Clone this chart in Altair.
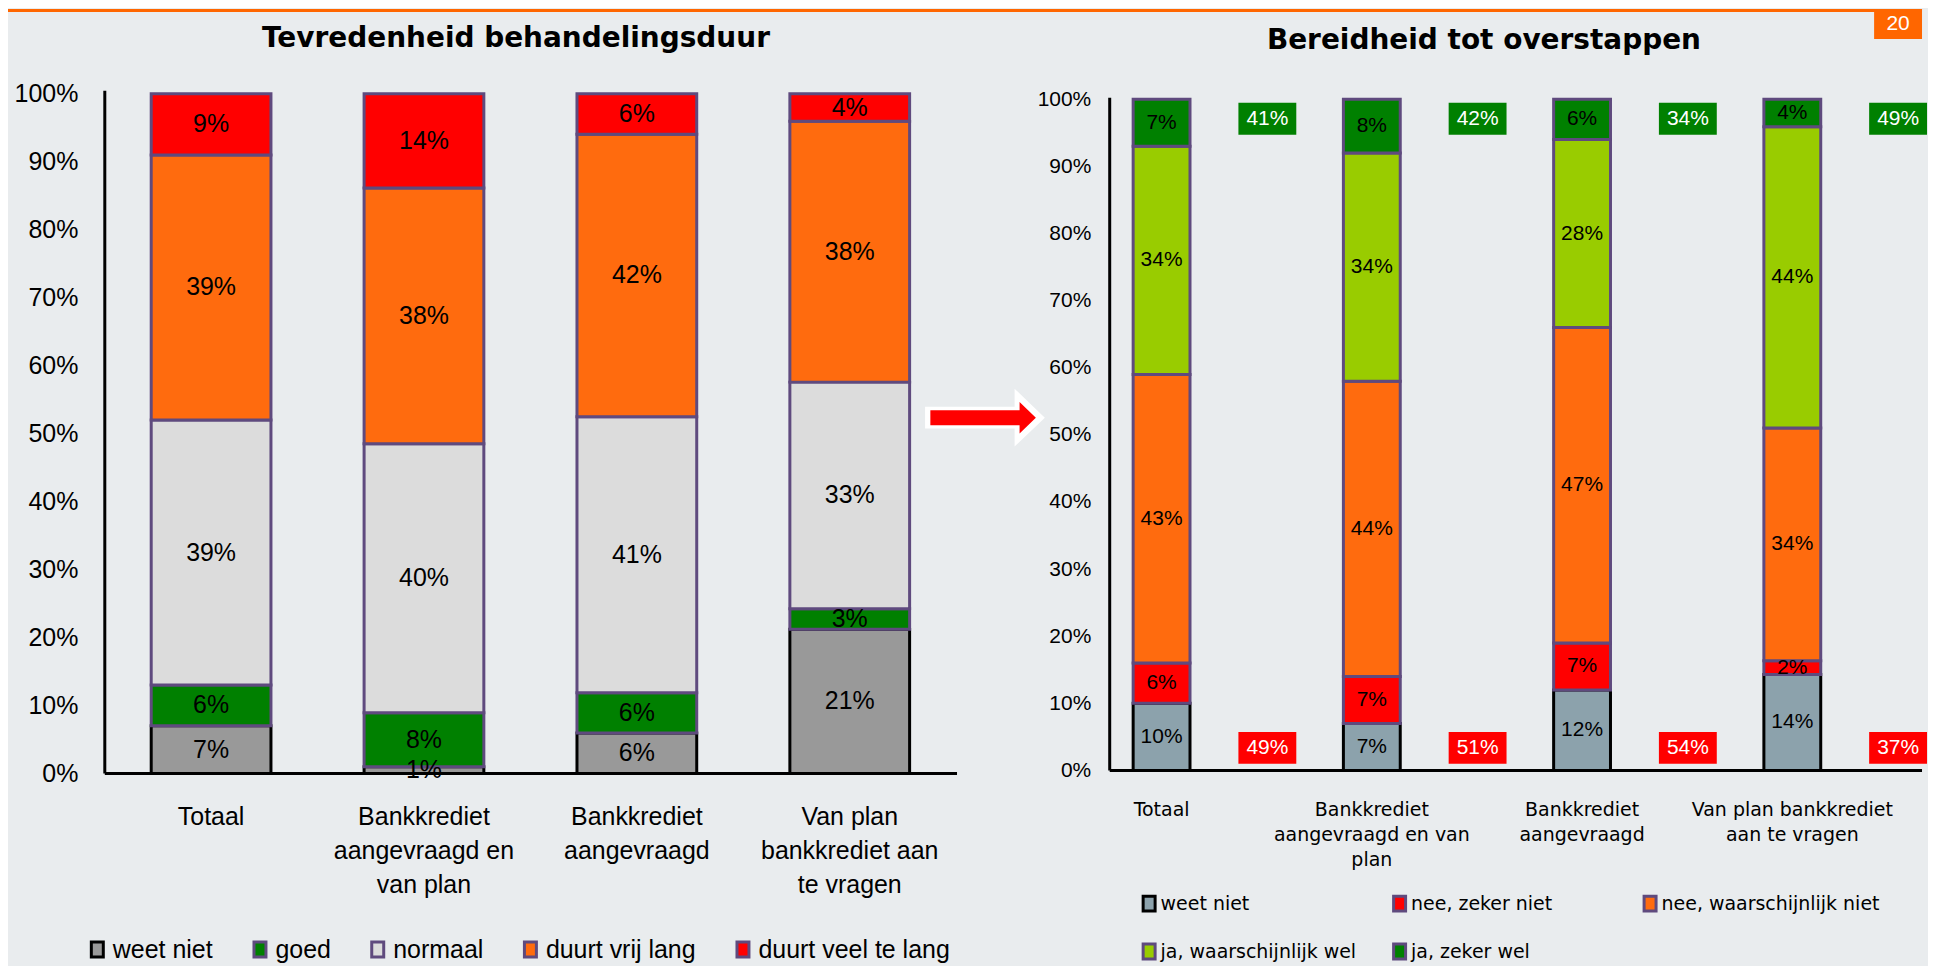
import altair as alt
import pandas as pd

# ---------------- data ----------------
CATEGORIES = [
    "Totaal",
    "Bankkrediet aangevraagd en van plan",
    "Bankkrediet aangevraagd",
    "Van plan bankkrediet aan te vragen",
]
LEFT_AXIS_LINES = [
    ["Totaal"],
    ["Bankkrediet", "aangevraagd en", "van plan"],
    ["Bankkrediet", "aangevraagd"],
    ["Van plan", "bankkrediet aan", "te vragen"],
]
RIGHT_AXIS_LINES = [
    ["Totaal"],
    ["Bankkrediet", "aangevraagd en van", "plan"],
    ["Bankkrediet", "aangevraagd"],
    ["Van plan bankkrediet", "aan te vragen"],
]

LEFT_TITLE = "Tevredenheid behandelingsduur"
LEFT_SERIES = ["weet niet", "goed", "normaal", "duurt vrij lang", "duurt veel te lang"]
LEFT_WEET_NIET = [7, 1, 6, 21]
LEFT_GOED = [6, 8, 6, 3]
LEFT_NORMAAL = [39, 40, 41, 33]
LEFT_VRIJ_LANG = [39, 38, 42, 38]
LEFT_VEEL_TE_LANG = [9, 14, 6, 4]

RIGHT_TITLE = "Bereidheid tot overstappen"
RIGHT_SERIES = ["weet niet", "nee, zeker niet", "nee, waarschijnlijk niet",
                "ja, waarschijnlijk wel", "ja, zeker wel"]
RIGHT_WEET_NIET = [10, 7, 12, 14]
RIGHT_ZEKER_NIET = [6, 7, 7, 2]
RIGHT_WAARSCH_NIET = [43, 44, 47, 34]
RIGHT_WAARSCH_WEL = [34, 34, 28, 44]
RIGHT_ZEKER_WEL = [7, 8, 6, 4]
RIGHT_JA_TOTAAL = [41, 42, 34, 49]
RIGHT_NEE_TOTAAL = [49, 51, 54, 37]

PAGE_NUMBER = "20"
Y_TICKS = [0, 0.1, 0.2, 0.3, 0.4, 0.5, 0.6, 0.7, 0.8, 0.9, 1.0]

# ---------------- styles ----------------
BG = "#E9ECEE"
PURPLE = "#5F4A7E"
LEFT_FILLS = ["#999999", "#008000", "#DCDCDC", "#FF6B0E", "#FF0000"]
LEFT_STROKES = ["#000000", PURPLE, PURPLE, PURPLE, PURPLE]
RIGHT_FILLS = ["#8CA2AC", "#FF0000", "#FF6B0E", "#99CC00", "#008000"]
RIGHT_STROKES = ["#000000", PURPLE, PURPLE, PURPLE, PURPLE]
SANS = "Liberation Sans"
WIDE = "DejaVu Sans"

LEG_SYMBOL = "M-0.8,-1L0.8,-1L0.8,1L-0.8,1Z"
ARROW_WHITE = "M-1,-0.183L0.495,-0.183L0.495,-0.483L1,0L0.495,0.483L0.495,0.183L-1,0.183Z"
ARROW_RED = "M-0.912,-0.125L0.578,-0.125L0.578,-0.263L0.85,0L0.578,0.263L0.578,0.125L-0.912,0.125Z"
BOX = "M-1,-0.55L1,-0.55L1,0.55L-1,0.55Z"

WL, HL = 853, 681
WR, HR = 736, 678


def long_df(series, arrays):
    rows = []
    for si, (s, vals) in enumerate(zip(series, arrays)):
        for c, v in zip(CATEGORIES, vals):
            rows.append({"cat": c, "serie": s, "order": si, "value": v, "label": f"{v}%"})
    return pd.DataFrame(rows)


def label_expr(lines):
    expr = "datum.label"
    for c, l in reversed(list(zip(CATEGORIES, lines))):
        arr = "[" + ",".join("'" + s + "'" for s in l) + "]"
        expr = f"datum.value === '{c}' ? {arr} : ({expr})"
    return expr


df_l = long_df(LEFT_SERIES, [LEFT_WEET_NIET, LEFT_GOED, LEFT_NORMAAL, LEFT_VRIJ_LANG, LEFT_VEEL_TE_LANG])
df_r = long_df(RIGHT_SERIES, [RIGHT_WEET_NIET, RIGHT_ZEKER_NIET, RIGHT_WAARSCH_NIET,
                              RIGHT_WAARSCH_WEL, RIGHT_ZEKER_WEL])
df_box = pd.DataFrame({
    "cat": CATEGORIES,
    "ja": [f"{v}%" for v in RIGHT_JA_TOTAAL],
    "nee": [f"{v}%" for v in RIGHT_NEE_TOTAAL],
})
one = pd.DataFrame({"k": [0]})

# ---------------- left panel ----------------
xl = alt.X("cat:N", sort=CATEGORIES,
           scale=alt.Scale(paddingInner=0.4375, paddingOuter=0.218),
           axis=alt.Axis(title=None, domain=False, ticks=False, labelAngle=0,
                         labelFont=SANS, labelFontSize=25, labelLineHeight=34,
                         labelPadding=31, labelColor="black", labelLimit=500,
                         labelExpr=label_expr(LEFT_AXIS_LINES)))
yl_scale = alt.Scale(domain=[0, 1], nice=False)
yl_axis = alt.Axis(title=None, domain=False, ticks=False, grid=False, values=Y_TICKS,
                   format=".0%", labelFont=SANS, labelFontSize=25, labelPadding=27,
                   labelColor="black", labelOverlap=False)

leg_l = alt.Legend(title=None, orient="none", legendX=-20, legendY=845,
                   direction="horizontal", columns=5, symbolType=LEG_SYMBOL,
                   symbolSize=225, symbolStrokeWidth=3, labelFont=SANS,
                   labelFontSize=25, labelOffset=3, columnPadding=34,
                   labelLimit=500, padding=0, labelColor="black")

stack_l = alt.Chart(df_l).transform_stack(
    stack="value", groupby=["cat"], sort=[alt.SortField("order")],
    as_=["y0", "y1"], offset="normalize"
).transform_calculate(mid="(datum.y0 + datum.y1) / 2")

bars_l = stack_l.mark_bar(strokeWidth=3).encode(
    x=xl,
    y=alt.Y("y0:Q", scale=yl_scale, axis=yl_axis),
    y2="y1:Q",
    fill=alt.Fill("serie:N", scale=alt.Scale(domain=LEFT_SERIES, range=LEFT_FILLS), legend=leg_l),
    stroke=alt.Stroke("serie:N", scale=alt.Scale(domain=LEFT_SERIES, range=LEFT_STROKES), legend=leg_l),
    order=alt.Order("order:Q"),
)
text_l = stack_l.mark_text(font=SANS, fontSize=25, color="black", baseline="middle").encode(
    x=alt.X("cat:N", sort=CATEGORIES),
    y=alt.Y("mid:Q", title=None),
    text="label:N",
)

axis_lines_l = alt.layer(
    alt.Chart(one).mark_rule(color="black", strokeWidth=3).encode(
        x=alt.value(0), y=alt.value(-3), y2=alt.value(HL)),
    alt.Chart(one).mark_rule(color="black", strokeWidth=3).encode(
        x=alt.value(0), x2=alt.value(WL + 1), y=alt.value(HL)),
)
title_l = alt.Chart(one).mark_text(text=LEFT_TITLE, font=WIDE, fontSize=28, fontWeight="bold",
                                   color="black", baseline="middle").encode(
    x=alt.value(412), y=alt.value(-55))

# decorations (page line, page number, arrow) positioned in page space
deco = alt.layer(
    alt.Chart(one).mark_rect(color="#FF6600").encode(
        x=alt.value(-97), x2=alt.value(1821), y=alt.value(-85), y2=alt.value(-82)),
    alt.Chart(one).mark_rect(color="#FF6600").encode(
        x=alt.value(1773), x2=alt.value(1821), y=alt.value(-85), y2=alt.value(-55)),
    alt.Chart(one).mark_text(text=PAGE_NUMBER, font=SANS, fontSize=21, color="white",
                             baseline="middle").encode(x=alt.value(1797), y=alt.value(-70)),
    alt.Chart(one).mark_point(shape=ARROW_WHITE, size=14400, filled=True, color="white",
                              opacity=1, strokeWidth=0).encode(x=alt.value(882), y=alt.value(324.5)),
    alt.Chart(one).mark_point(shape=ARROW_RED, size=14400, filled=True, color="#FF0000",
                              opacity=1, strokeWidth=0).encode(x=alt.value(882), y=alt.value(324.5)),
)

left = alt.layer(bars_l, text_l, axis_lines_l, title_l, deco).properties(width=WL, height=HL)

# ---------------- right panel ----------------
xr = alt.X("cat:N", sort=CATEGORIES,
           scale=alt.Scale(paddingInner=0.7296, paddingOuter=0.1115),
           axis=alt.Axis(title=None, domain=False, ticks=False, labelAngle=0,
                         labelFont=WIDE, labelFontSize=19, labelLineHeight=25,
                         labelPadding=30, labelColor="black", labelLimit=500,
                         labelExpr=label_expr(RIGHT_AXIS_LINES)))
yr_scale = alt.Scale(domain=[0, 1.0082], nice=False)
yr_axis = alt.Axis(title=None, domain=False, ticks=False, grid=False, values=Y_TICKS,
                   format=".0%", labelFont=SANS, labelFontSize=21, labelPadding=19,
                   labelColor="black", labelOverlap=False)

leg_r = alt.Legend(title=None, orient="none", legendX=30, legendY=802,
                   direction="horizontal", columns=3, gridAlign="all",
                   symbolType=LEG_SYMBOL, symbolSize=225, symbolStrokeWidth=3,
                   labelFont=WIDE, labelFontSize=19, labelOffset=2, columnPadding=8,
                   rowPadding=21, labelLimit=500, padding=0, labelColor="black")

stack_r = alt.Chart(df_r).transform_stack(
    stack="value", groupby=["cat"], sort=[alt.SortField("order")],
    as_=["y0", "y1"], offset="normalize"
).transform_calculate(mid="(datum.y0 + datum.y1) / 2")

bars_r = stack_r.mark_bar(strokeWidth=3).encode(
    x=xr,
    y=alt.Y("y0:Q", scale=yr_scale, axis=yr_axis),
    y2="y1:Q",
    fill=alt.Fill("serie:N", scale=alt.Scale(domain=RIGHT_SERIES, range=RIGHT_FILLS), legend=leg_r),
    stroke=alt.Stroke("serie:N", scale=alt.Scale(domain=RIGHT_SERIES, range=RIGHT_STROKES), legend=leg_r),
    order=alt.Order("order:Q"),
)
text_r = stack_r.mark_text(font=SANS, fontSize=21, color="black", baseline="middle").encode(
    x=alt.X("cat:N", sort=CATEGORIES),
    y=alt.Y("mid:Q", title=None),
    text="label:N",
)

box_base = alt.Chart(df_box)
boxes = alt.layer(
    box_base.mark_point(shape=BOX, size=3364, filled=True, color="#008000", opacity=1,
                        strokeWidth=0, xOffset=106, yOffset=19.5).encode(
        x=alt.X("cat:N", sort=CATEGORIES), y=alt.datum(1.0)),
    box_base.mark_text(font=SANS, fontSize=21, color="white", baseline="middle",
                       xOffset=106, yOffset=19.5).encode(
        x=alt.X("cat:N", sort=CATEGORIES), y=alt.datum(1.0), text="ja:N"),
    box_base.mark_point(shape=BOX, size=3364, filled=True, color="#FF0000", opacity=1,
                        strokeWidth=0, xOffset=106, yOffset=-22.5).encode(
        x=alt.X("cat:N", sort=CATEGORIES), y=alt.datum(0.0)),
    box_base.mark_text(font=SANS, fontSize=21, color="white", baseline="middle",
                       xOffset=106, yOffset=-22.5).encode(
        x=alt.X("cat:N", sort=CATEGORIES), y=alt.datum(0.0), text="nee:N"),
)

axis_lines_r = alt.layer(
    alt.Chart(one).mark_rule(color="black", strokeWidth=3).encode(
        x=alt.value(0), y=alt.value(4), y2=alt.value(HR)),
    alt.Chart(one).mark_rule(color="black", strokeWidth=3).encode(
        x=alt.value(0), x2=alt.value(814), y=alt.value(HR)),
)
title_r = alt.Chart(one).mark_text(text=RIGHT_TITLE, font=WIDE, fontSize=28, fontWeight="bold",
                                   color="black", baseline="middle").encode(
    x=alt.value(375), y=alt.value(-53))

right = alt.layer(bars_r, text_r, boxes, axis_lines_r, title_r).properties(width=WR, height=HR)

chart = alt.hconcat(left, right, spacing=154, bounds="flush").resolve_scale(
    x="independent", y="independent", fill="independent", stroke="independent"
).resolve_legend(fill="independent", stroke="independent").properties(
    background=BG, padding=0
).configure_view(stroke=None)

chart.save("out.html", embed_options={"renderer": "svg", "actions": False})
